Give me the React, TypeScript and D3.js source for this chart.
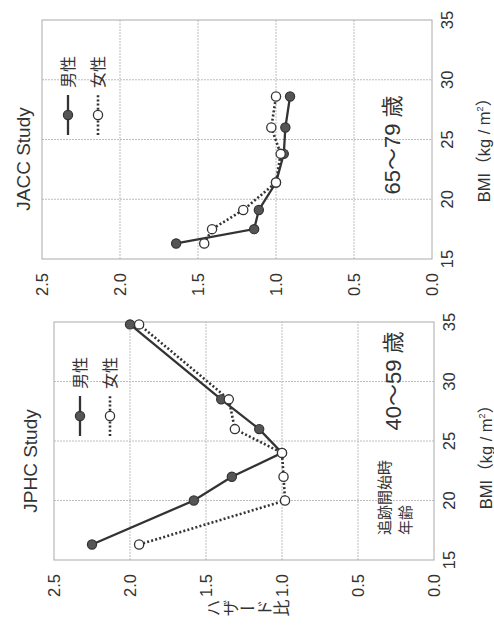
import React from "react";
import * as d3 from "d3";

// values (BMI, hazard ratio)
const bmiTicks = [15, 20, 25, 30, 35];
const hrTicks = [0, 0.5, 1.0, 1.5, 2.0, 2.5];

const jphcBmi = [16.3, 20.0, 22.0, 24.0, 26.0, 28.5, 34.8];
const jphcMen = [2.25, 1.58, 1.33, 1.0, 1.15, 1.4, 2.0];
const jphcWomen = [1.94, 0.98, 0.99, 1.0, 1.31, 1.35, 1.94];

const jaccBmi = [16.3, 17.5, 19.1, 21.4, 23.8, 26.0, 28.6];
const jaccMen = [1.64, 1.14, 1.11, 1.0, 0.95, 0.94, 0.91];
const jaccWomen = [1.46, 1.41, 1.21, 1.0, 0.97, 1.03, 1.0];

const W = 494;
const H = 629;
const INK = "#333";
const LATIN = "'Liberation Sans', Arial, 'Noto Sans CJK JP', sans-serif";
const CJK = "'Noto Sans CJK JP', 'Liberation Sans', sans-serif";

type PanelProps = {
  u0: number; u1: number; v0: number; v1: number;
  bmi: number[]; men: number[]; women: number[];
  title: string; titleU: number; titleV: number;
  age: string; ageU: number; ageV: number;
  bmiTitleU: number; bmiTitleV: number;
  note?: boolean;
};

function Panel(p: PanelProps) {
  const x = d3.scaleLinear().domain([15, 35]).range([p.u0, p.u1]);
  const y = d3.scaleLinear().domain([0, 2.5]).range([p.v1, p.v0]);
  const line = d3.line<number>().x((_, i) => x(p.bmi[i])).y(d => y(d));
  const legU = p.u0 + 124;
  const legV = p.v0 + 26;

  return (
    <g>
      {/* grid */}
      {bmiTicks.slice(1, -1).map(t => (
        <line key={"gx" + t} x1={x(t)} x2={x(t)} y1={p.v0} y2={p.v1}
          stroke="#bdbdbd" strokeWidth={1} strokeDasharray="2 1" />
      ))}
      {hrTicks.slice(1, -1).map(t => (
        <line key={"gy" + t} x1={p.u0} x2={p.u1} y1={y(t)} y2={y(t)}
          stroke="#bdbdbd" strokeWidth={1} strokeDasharray="2 1" />
      ))}
      <rect x={p.u0} y={p.v0} width={p.u1 - p.u0} height={p.v1 - p.v0}
        fill="none" stroke="#aaa" strokeWidth={1} />

      {/* tick labels */}
      {hrTicks.map(t => (
        <text key={"ty" + t} x={p.u0 - 14} y={y(t)} dy="0.36em" textAnchor="end"
          fontSize={16.5} fill={INK} fontFamily={LATIN}>{t.toFixed(1)}</text>
      ))}
      {bmiTicks.map(t => (
        <text key={"tx" + t} x={x(t)} y={p.v1 + 21} textAnchor="middle"
          fontSize={16.5} fill={INK} fontFamily={LATIN}>{t}</text>
      ))}
      <text x={p.bmiTitleU} y={p.bmiTitleV} textAnchor="middle" fontSize={16.5}
        fill={INK} fontFamily={LATIN}>
        BMI（kg / m<tspan dy={-7} fontSize={9}>2</tspan><tspan dy={7}>）</tspan>
      </text>
      <text x={p.titleU} y={p.titleV} textAnchor="middle" fontSize={19}
        fill={INK} fontFamily={LATIN}>{p.title}</text>

      {/* series */}
      <path d={line(p.men) || ""} fill="none" stroke={INK} strokeWidth={2.3} />
      <path d={line(p.women) || ""} fill="none" stroke={INK} strokeWidth={2.6}
        strokeDasharray="2 2.2" />
      {p.men.map((d, i) => (
        <circle key={"m" + i} cx={x(p.bmi[i])} cy={y(d)} r={4.6}
          fill="#555" stroke={INK} strokeWidth={1.2} />
      ))}
      {p.women.map((d, i) => (
        <circle key={"w" + i} cx={x(p.bmi[i])} cy={y(d)} r={4.6}
          fill="#fff" stroke={INK} strokeWidth={1.3} />
      ))}

      {/* legend */}
      <line x1={legU} x2={legU + 40} y1={legV} y2={legV} stroke={INK} strokeWidth={2.3} />
      <circle cx={legU + 20} cy={legV} r={4.6} fill="#555" stroke={INK} strokeWidth={1.2} />
      <text x={legU + 47} y={legV} dy="0.36em" fontSize={16} fill={INK} fontFamily={CJK}>男性</text>
      <line x1={legU} x2={legU + 40} y1={legV + 30} y2={legV + 30} stroke={INK}
        strokeWidth={2.6} strokeDasharray="2 2.2" />
      <circle cx={legU + 20} cy={legV + 30} r={4.6} fill="#fff" stroke={INK} strokeWidth={1.3} />
      <text x={legU + 47} y={legV + 30} dy="0.36em" fontSize={16} fill={INK} fontFamily={CJK}>女性</text>

      <text x={p.ageU} y={p.ageV} textAnchor="middle" fontSize={22} fill={INK} fontFamily={LATIN}>
        {p.age}
      </text>
      {p.note && (
        <g fontSize={15} fill={INK} fontFamily={CJK}>
          <text x={p.u0 + 25} y={p.v1 - 44}>追跡開始時</text>
          <text x={p.u0 + 25} y={p.v1 - 23}>年齢</text>
        </g>
      )}
    </g>
  );
}

export default function App() {
  return (
    <svg width={W} height={H} style={{ position: "absolute", left: 0, top: 0, background: "#fff" }}>
      <g transform={`translate(0,${H}) rotate(-90)`}>
        <Panel u0={69} u1={307} v0={54} v1={434}
          bmi={jphcBmi} men={jphcMen} women={jphcWomen}
          title="JPHC Study" titleU={168} titleV={37}
          age="40〜59 歳" ageU={248} ageV={401}
          bmiTitleU={176} bmiTitleV={492} note />
        <Panel u0={370} u1={609} v0={42} v1={432}
          bmi={jaccBmi} men={jaccMen} women={jaccWomen}
          title="JACC Study" titleU={470} titleV={30}
          age="65〜79 歳" ageU={484} ageV={400}
          bmiTitleU={483} bmiTitleV={490} />
        <text x={21} y={205} fontSize={17} fill={INK} fontFamily={CJK}
          textAnchor="start" style={{ writingMode: "vertical-rl" }}>ハザード比</text>
      </g>
    </svg>
  );
}
